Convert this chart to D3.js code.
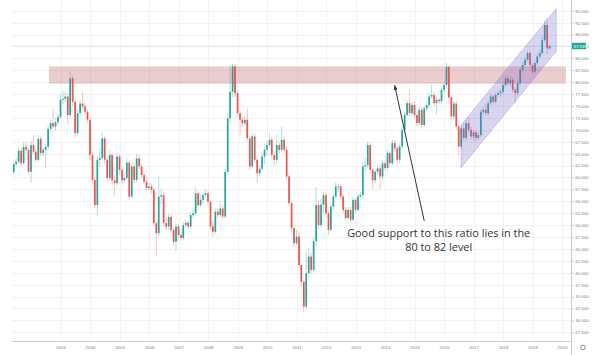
<!DOCTYPE html>
<html>
<head>
<meta charset="utf-8">
<script src="https://cdn.jsdelivr.net/npm/d3@7"></script>
<style>
    body { margin: 0; background: #fff; }
    svg { display: block; }
    .axis text { font-family: "Liberation Sans", Arial, sans-serif; font-size: 4.4px; fill: #7f7f7f; }
    .axis line { stroke: #9a9a9a; stroke-width: 0.5; }
    .note { font-family: "Open Sans", sans-serif; font-size: 10.9px; fill: #333; }
</style>
</head>
<body>
<div id="chart"></div>
<script>

// monthly candles, Jun 2001 .. Aug 2019 (open = previous close)
var startMonth = new Date(2001, 5, 1);
var firstOpen = 61.1;

var closes = [
    62.8, 63.3, 65.6, 63.0, 66.4, 65.8, 61.2,                        // 2001 (Jun-Dec)
    66.8, 65.4, 63.7, 68.1, 65.1, 65.8, 66.4, 70.2, 71.4, 70.7, 71.6, 72.7, // 2002
    76.3, 76.5, 77.0, 73.1, 80.8, 75.9, 69.3, 73.5, 75.5, 74.9, 73.8, 72.1, // 2003
    64.7, 59.5, 54.2, 63.7, 64.1, 68.2, 63.7, 59.9, 64.7, 59.4, 58.8, 64.4, // 2004
    61.6, 59.4, 59.9, 63.1, 56.0, 62.3, 59.5, 64.0, 62.3, 60.5, 59.1, 57.8, // 2005
    58.1, 57.4, 50.4, 48.3, 56.0, 56.3, 50.4, 49.7, 51.7, 49.0, 46.5, 49.7, // 2006
    47.9, 47.3, 50.0, 50.5, 49.7, 52.1, 52.5, 56.7, 54.2, 55.3, 56.3, 56.7, // 2007
    54.9, 49.7, 48.6, 52.8, 52.1, 53.5, 51.8, 61.2, 72.4, 78.0, 83.3, 77.7, // 2008
    73.5, 72.1, 71.4, 72.1, 68.2, 62.3, 68.6, 63.7, 60.9, 61.8, 64.4, 65.8, // 2009
    66.8, 67.9, 64.7, 63.7, 66.8, 65.8, 67.9, 65.8, 60.2, 54.6, 49.4, 46.2, // 2010
    47.6, 41.6, 38.1, 32.9, 39.9, 43.4, 40.6, 46.6, 54.2, 50.0, 54.3, 56.3, // 2011
    52.5, 49.0, 53.9, 56.0, 58.1, 58.1, 56.0, 53.2, 51.5, 53.2, 51.1, 55.3, // 2012
    53.2, 56.0, 56.3, 62.3, 62.6, 66.8, 61.6, 59.4, 61.2, 61.9, 60.2, 63.0, // 2013
    62.0, 65.1, 63.0, 67.2, 66.1, 63.7, 66.5, 70.0, 73.1, 75.6, 73.5, 75.2, // 2014
    73.1, 71.4, 74.2, 71.0, 74.5, 75.2, 77.0, 77.3, 75.6, 76.3, 76.0, 78.4, // 2015
    79.4, 83.2, 76.8, 72.8, 75.5, 70.7, 66.5, 70.3, 68.3, 71.4, 70.0, 68.6, // 2016
    69.5, 68.3, 68.9, 73.8, 74.2, 73.5, 75.6, 77.0, 75.9, 77.3, 77.7, 78.0, // 2017
    79.4, 80.8, 79.8, 80.5, 78.4, 77.7, 79.8, 82.6, 83.6, 84.7, 86.1, 83.6, // 2018
    82.2, 84.0, 85.4, 86.1, 88.8, 92.0, 87.1, 87.589                         // 2019 (Jan-Aug)
];

var highs = [
    63.3, 64.2, 66.4, 66.2, 67.4, 67.3, 66.2,
    67.6, 68.9, 66.0, 68.9, 68.6, 66.4, 67.0, 70.9, 72.1, 74.3, 72.4, 73.3,
    77.5, 78.2, 77.9, 77.6, 82.3, 81.4, 76.4, 74.2, 76.3, 78.0, 75.6, 74.3,
    72.6, 65.4, 60.0, 64.3, 66.2, 69.4, 68.8, 64.3, 65.6, 65.1, 60.4, 65.2,
    64.9, 62.2, 60.6, 63.9, 63.6, 63.0, 63.1, 65.0, 64.8, 62.9, 61.0, 59.6,
    58.9, 58.7, 57.9, 51.0, 60.2, 57.6, 56.9, 51.6, 52.5, 52.2, 49.5, 50.3,
    50.2, 48.5, 50.6, 51.2, 51.0, 52.6, 53.3, 57.8, 57.2, 56.4, 57.0, 57.5,
    57.2, 55.3, 50.8, 53.5, 53.6, 54.6, 54.0, 61.8, 73.5, 83.7, 83.8, 83.6,
    78.2, 74.0, 72.8, 73.0, 74.4, 68.7, 69.2, 69.1, 64.2, 62.5, 65.2, 66.5,
    67.5, 69.4, 68.6, 65.4, 69.0, 67.4, 70.6, 68.6, 66.6, 60.6, 55.0, 49.8,
    49.0, 48.5, 42.0, 38.4, 44.5, 45.3, 44.2, 47.5, 58.0, 55.2, 55.5, 57.0,
    56.8, 53.0, 54.5, 56.6, 59.0, 58.7, 58.5, 56.5, 53.8, 53.8, 54.0, 55.8,
    55.8, 56.5, 57.0, 63.2, 64.2, 67.6, 67.2, 62.0, 61.8, 62.6, 62.5, 63.6,
    63.6, 65.8, 65.6, 67.9, 67.8, 66.6, 67.1, 70.7, 73.8, 76.2, 78.5, 75.9,
    76.0, 73.8, 74.8, 74.7, 75.1, 75.9, 77.7, 79.5, 77.9, 76.9, 76.8, 79.0,
    80.0, 84.0, 83.6, 77.3, 76.1, 76.0, 71.2, 71.0, 71.2, 72.0, 72.6, 70.6,
    70.0, 69.9, 69.4, 74.4, 74.9, 75.5, 76.2, 77.6, 77.5, 77.8, 78.3, 78.6,
    80.0, 81.5, 81.6, 81.3, 81.0, 78.9, 80.4, 83.2, 84.2, 85.3, 86.6, 86.5,
    84.1, 84.6, 86.0, 86.8, 89.5, 93.0, 93.4, 88.0
];

var lows = [
    60.6, 62.2, 62.9, 62.4, 62.6, 65.0, 60.6,
    58.9, 64.9, 63.1, 63.2, 64.5, 64.5, 62.0, 65.9, 69.5, 70.1, 69.8, 71.0,
    72.3, 75.4, 75.8, 71.2, 72.6, 75.0, 68.4, 68.8, 72.9, 74.3, 73.3, 71.5,
    63.6, 58.9, 53.5, 51.8, 62.3, 63.5, 62.9, 58.9, 59.4, 58.6, 56.2, 58.4,
    60.6, 58.6, 58.9, 59.4, 55.3, 55.6, 58.8, 59.0, 61.8, 60.0, 58.5, 57.2,
    57.3, 56.6, 49.8, 43.4, 47.6, 54.4, 49.6, 49.0, 48.9, 48.4, 45.7, 44.6,
    47.3, 46.7, 46.8, 49.6, 49.2, 49.3, 51.6, 52.0, 53.7, 53.9, 54.6, 55.8,
    54.3, 49.0, 47.6, 48.2, 51.4, 51.6, 51.2, 51.5, 60.5, 71.5, 76.8, 76.9,
    72.8, 68.9, 70.6, 70.9, 67.6, 61.6, 61.8, 63.0, 58.9, 60.2, 61.2, 62.8,
    64.6, 66.2, 64.0, 62.5, 63.0, 65.0, 65.3, 65.2, 59.5, 54.0, 48.6, 45.4,
    45.8, 41.0, 37.3, 31.7, 32.5, 39.2, 39.8, 40.0, 45.6, 49.2, 49.6, 52.4,
    51.7, 47.9, 48.7, 53.3, 55.6, 56.8, 55.6, 52.6, 51.0, 51.2, 50.6, 50.8,
    52.6, 52.8, 55.4, 55.8, 61.2, 61.8, 60.8, 57.5, 58.8, 60.5, 57.6, 59.6,
    61.4, 61.5, 62.4, 62.6, 65.4, 63.1, 63.0, 66.0, 69.5, 72.6, 72.9, 72.9,
    72.4, 70.8, 70.9, 70.3, 70.6, 73.9, 74.6, 76.5, 75.0, 73.2, 75.3, 75.5,
    77.8, 78.9, 76.2, 72.2, 72.0, 70.0, 64.7, 66.0, 67.7, 67.8, 69.4, 68.0,
    67.8, 67.7, 67.9, 68.5, 73.1, 73.0, 73.0, 75.0, 75.3, 75.5, 76.9, 77.1,
    77.5, 79.0, 79.3, 79.2, 77.9, 75.6, 77.2, 79.3, 82.0, 83.1, 84.2, 83.0,
    81.6, 81.8, 83.6, 85.0, 85.8, 88.3, 85.8, 86.8
];

var yearTicks = d3.range(2003, 2021);
var priceTicks = d3.range(27.5, 95.1, 2.5);
var lastPrice = 87.589;

// drawings on the chart
var supportZone = { start: new Date(2002, 7, 15), end: new Date(2020, 1, 15), low: 79.75, high: 83.25 };
var trendChannel = { start: new Date(2016, 6, 29), end: new Date(2019, 9, 24),
                     startHigh: 71.0, startLow: 62.0, endHigh: 95.5, endLow: 86.5 };
var arrowLine = { from: [new Date(2015, 4, 1), 50.9], to: [new Date(2014, 4, 1), 79.3] };
var noteAt = { date: new Date(2015, 9, 15), value: 47.5 };
var noteLines = ["Good support to this ratio lies in the", "80 to 82 level"];


RatioChart = function(_parentElement, _data){
    this.parentElement = _parentElement;
    this.data = _data;

    this.initVis();
}

RatioChart.prototype.initVis = function(){
    var vis = this;

    vis.width = 600;
    vis.height = 355;
    vis.left = 12.5;
    vis.axisX = 571.5;
    vis.axisY = 341.5;

    vis.svg = d3.select("#" + vis.parentElement).append("svg")
        .attr("width", vis.width)
        .attr("height", vis.height);

    vis.svg.append("defs").append("clipPath")
        .attr("id", "clip")
        .append("rect")
        .attr("x", vis.left)
        .attr("y", 0)
        .attr("width", vis.axisX - vis.left)
        .attr("height", vis.axisY);

    vis.svg.select("defs").append("marker")
        .attr("id", "head")
        .attr("viewBox", "0 0 10 10")
        .attr("refX", 9).attr("refY", 5)
        .attr("markerWidth", 5).attr("markerHeight", 5)
        .attr("orient", "auto")
        .append("path")
        .attr("d", "M0,1 L10,5 L0,9 z")
        .attr("fill", "#333");

    // Scales and axes
    vis.x = d3.scaleTime()
        .domain([new Date(2003, 0, 1), new Date(2020, 0, 1)])
        .range([60.5, 562]);

    vis.y = d3.scaleLinear()
        .domain([27.5, 95])
        .range([332.3, 10.7]);

    // grid
    vis.grid = vis.svg.append("g").attr("class", "grid");
    vis.grid.selectAll("line.h")
        .data(priceTicks)
        .enter().append("line")
        .attr("class", "h")
        .attr("x1", vis.left).attr("x2", vis.axisX)
        .attr("y1", function(d) { return Math.round(vis.y(d)) + 0.5; })
        .attr("y2", function(d) { return Math.round(vis.y(d)) + 0.5; })
        .attr("stroke", "#f1f1f1");

    vis.grid.selectAll("line.v")
        .data(yearTicks)
        .enter().append("line")
        .attr("class", "v")
        .attr("x1", function(d) { return Math.round(vis.x(new Date(d, 0, 1))) + 0.5; })
        .attr("x2", function(d) { return Math.round(vis.x(new Date(d, 0, 1))) + 0.5; })
        .attr("y1", 0).attr("y2", vis.axisY)
        .attr("stroke", "#f3f3f3");

    vis.xAxis = d3.axisBottom(vis.x)
        .tickValues(yearTicks.map(function(d) { return new Date(d, 0, 1); }))
        .tickFormat(d3.timeFormat("%Y"))
        .tickSize(0)
        .tickPadding(4.5);

    vis.yAxis = d3.axisRight(vis.y)
        .tickValues(priceTicks)
        .tickFormat(d3.format(".3f"))
        .tickSize(2)
        .tickPadding(1.2);

    vis.svg.append("g")
        .attr("class", "x-axis axis")
        .attr("transform", "translate(0," + vis.axisY + ")")
        .call(vis.xAxis)
        .select(".domain").remove();

    vis.svg.append("g")
        .attr("class", "y-axis axis")
        .attr("transform", "translate(" + (vis.axisX + 0.5) + ",0)")
        .call(vis.yAxis)
        .select(".domain").remove();

    vis.svg.append("line")
        .attr("x1", vis.left).attr("x2", vis.axisX)
        .attr("y1", vis.axisY).attr("y2", vis.axisY)
        .attr("stroke", "#c9c9c9");

    vis.svg.append("line")
        .attr("x1", vis.axisX).attr("x2", vis.axisX)
        .attr("y1", 0).attr("y2", vis.height)
        .attr("stroke", "#c9c9c9");

    // settings icon, bottom right
    vis.svg.append("circle")
        .attr("cx", 583).attr("cy", 347.5).attr("r", 2.3)
        .attr("fill", "none")
        .attr("stroke", "#6f6f6f")
        .attr("stroke-width", 0.8);

    vis.plot = vis.svg.append("g").attr("clip-path", "url(#clip)");

    vis.wrangleData();
}


RatioChart.prototype.wrangleData = function(){
    var vis = this;

    vis.candles = closes.map(function(c, i) {
        return {
            date: d3.timeMonth.offset(startMonth, i),
            open: i ? closes[i - 1] : firstOpen,
            close: c,
            high: highs[i],
            low: lows[i]
        };
    });

    vis.updateVis();
}


RatioChart.prototype.updateVis = function(){
    var vis = this;
    var up = "#26a69a", down = "#ef5350";
    var bw = 1.7;

    vis.plot.selectAll("line.wick")
        .data(vis.candles)
        .enter().append("line")
        .attr("class", "wick")
        .attr("x1", function(d) { return vis.x(d.date); })
        .attr("x2", function(d) { return vis.x(d.date); })
        .attr("y1", function(d) { return vis.y(d.high); })
        .attr("y2", function(d) { return vis.y(d.low); })
        .attr("stroke", function(d) { return d.close >= d.open ? up : down; })
        .attr("stroke-width", 0.8)
        .attr("stroke-opacity", 0.45);

    vis.plot.selectAll("rect.body")
        .data(vis.candles)
        .enter().append("rect")
        .attr("class", "body")
        .attr("x", function(d) { return vis.x(d.date) - bw / 2; })
        .attr("y", function(d) { return vis.y(Math.max(d.open, d.close)); })
        .attr("width", bw)
        .attr("height", function(d) { return Math.max(0.8, Math.abs(vis.y(d.open) - vis.y(d.close))); })
        .attr("fill", function(d) { return d.close >= d.open ? up : down; });

    // last price line
    vis.plot.append("line")
        .attr("x1", vis.left).attr("x2", vis.axisX)
        .attr("y1", vis.y(lastPrice)).attr("y2", vis.y(lastPrice))
        .attr("stroke", up)
        .attr("stroke-opacity", 0.45)
        .attr("stroke-width", 0.6)
        .attr("stroke-dasharray", "1,1");

    // support zone
    vis.plot.append("rect")
        .attr("x", vis.x(supportZone.start))
        .attr("y", vis.y(supportZone.high))
        .attr("width", vis.x(supportZone.end) - vis.x(supportZone.start))
        .attr("height", vis.y(supportZone.low) - vis.y(supportZone.high))
        .attr("fill", "rgba(190,90,95,0.3)")
        .attr("stroke", "rgba(190,90,95,0.35)")
        .attr("stroke-width", 0.6)
        .attr("stroke-dasharray", "1,1");

    // rising channel
    var ch = trendChannel;
    var pts = [
        [vis.x(ch.start), vis.y(ch.startHigh)],
        [vis.x(ch.end), vis.y(ch.endHigh)],
        [vis.x(ch.end), vis.y(ch.endLow)],
        [vis.x(ch.start), vis.y(ch.startLow)]
    ];
    vis.plot.append("path")
        .attr("d", d3.line()(pts) + "Z")
        .attr("fill", "rgba(120,100,200,0.28)")
        .attr("stroke", "rgba(140,120,210,0.45)")
        .attr("stroke-width", 0.6);

    // arrow + note
    vis.svg.append("line")
        .attr("x1", vis.x(arrowLine.from[0])).attr("y1", vis.y(arrowLine.from[1]))
        .attr("x2", vis.x(arrowLine.to[0])).attr("y2", vis.y(arrowLine.to[1]))
        .attr("stroke", "#333")
        .attr("stroke-width", 1)
        .attr("marker-end", "url(#head)");

    vis.note = vis.svg.append("g").attr("class", "note-group");
    vis.note.selectAll("text")
        .data(noteLines)
        .enter().append("text")
        .attr("class", "note")
        .attr("text-anchor", "middle")
        .attr("x", vis.x(noteAt.date) + 1)
        .attr("y", function(d, i) { return vis.y(noteAt.value) + i * 13.6; })
        .text(function(d) { return d; });

    // last price label
    var py = vis.y(lastPrice);
    vis.svg.append("rect")
        .attr("x", vis.axisX + 0.5).attr("y", py - 3.2)
        .attr("width", 14).attr("height", 6.4)
        .attr("fill", up);

    vis.svg.append("text")
        .attr("x", vis.axisX + 2.2).attr("y", py + 1.6)
        .attr("font-family", "Liberation Sans, Arial, sans-serif")
        .attr("font-size", 4.4)
        .attr("fill", "#fff")
        .text(d3.format(".3f")(lastPrice));
}

var chart = new RatioChart("chart", closes);

</script>
</body>
</html>
